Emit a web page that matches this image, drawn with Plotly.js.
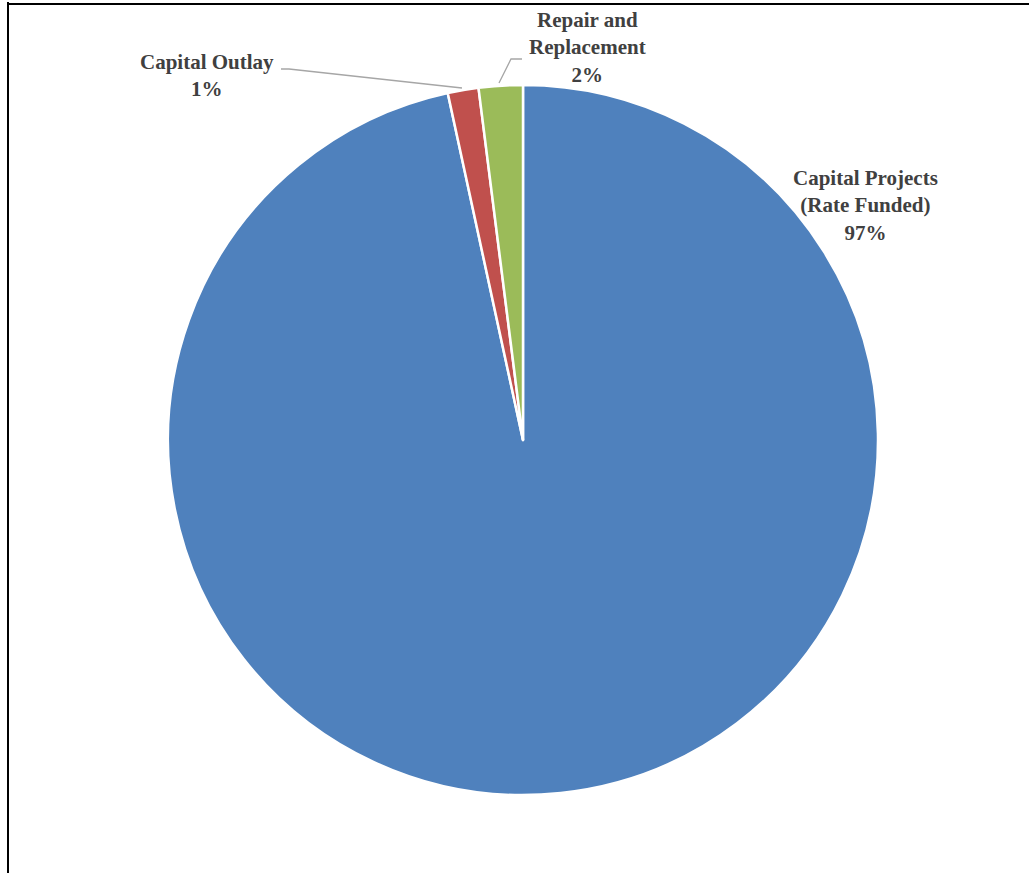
<!DOCTYPE html>
<html>
<head>
<meta charset="utf-8">
<script src="https://cdn.plot.ly/plotly-3.0.1.min.js"></script>
<style>html,body{margin:0;padding:0;background:#fff;}#chart{width:1029px;height:873px;}</style>
</head>
<body>
<div id="chart"></div>
<script>
// Data
const categories = ["Capital Projects (Rate Funded)", "Capital Outlay", "Repair and Replacement"];
const labelLines = [["Capital Projects", "(Rate Funded)"], ["Capital Outlay"], ["Repair and", "Replacement"]];
const values = [96.6, 1.4, 2.0];
const colors = ["#4F81BD", "#C0504D", "#9BBB59"];

const W = 1029, H = 873;
const px = x => x / W;
const py = y => 1 - y / H;

const total = values.reduce((a, b) => a + b, 0);
const pct = values.map(v => Math.round(v / total * 100) + "%");

// label anchor positions (pixels)
const labelPos = [[865, 205], [207, 75], [587, 47]];

const annotations = categories.map((c, i) => ({
  xref: "paper", yref: "paper",
  x: px(labelPos[i][0]), y: py(labelPos[i][1]),
  xanchor: "center", yanchor: "middle",
  text: labelLines[i].concat([pct[i]]).join("<br>"),
  showarrow: false,
  align: "center",
  font: {family: "Liberation Serif", size: 21, color: "#404040", weight: "bold"}
}));

const leader = pts => ({
  type: "path", xref: "paper", yref: "paper",
  path: "M " + pts.map(p => px(p[0]) + "," + py(p[1])).join(" L "),
  line: {color: "#A6A6A6", width: 1.3}
});

const shapes = [
  leader([[281, 69], [289, 69], [462, 88]]),
  leader([[499, 83], [511, 59], [522, 59]]),
  {type: "line", xref: "paper", yref: "paper", x0: px(8), x1: px(8), y0: py(2), y1: -0.1, line: {color: "#000", width: 2}},
  {type: "line", xref: "paper", yref: "paper", x0: px(8), x1: 1.1, y0: py(4), y1: py(4), line: {color: "#000", width: 2}}
];

const trace = {
  type: "pie",
  labels: categories,
  values: values,
  sort: false,
  direction: "clockwise",
  rotation: 0,
  textinfo: "none",
  marker: {colors: colors, line: {color: "#FFFFFF", width: 2.5}},
  domain: {x: [px(168), px(878)], y: [py(795), py(85)]},
  showlegend: false
};

const layout = {
  width: W, height: H,
  margin: {l: 0, r: 0, t: 0, b: 0},
  paper_bgcolor: "#FFFFFF",
  showlegend: false,
  annotations: annotations,
  shapes: shapes
};

Plotly.newPlot("chart", [trace], layout, {displayModeBar: false, staticPlot: true});
</script>
</body>
</html>
